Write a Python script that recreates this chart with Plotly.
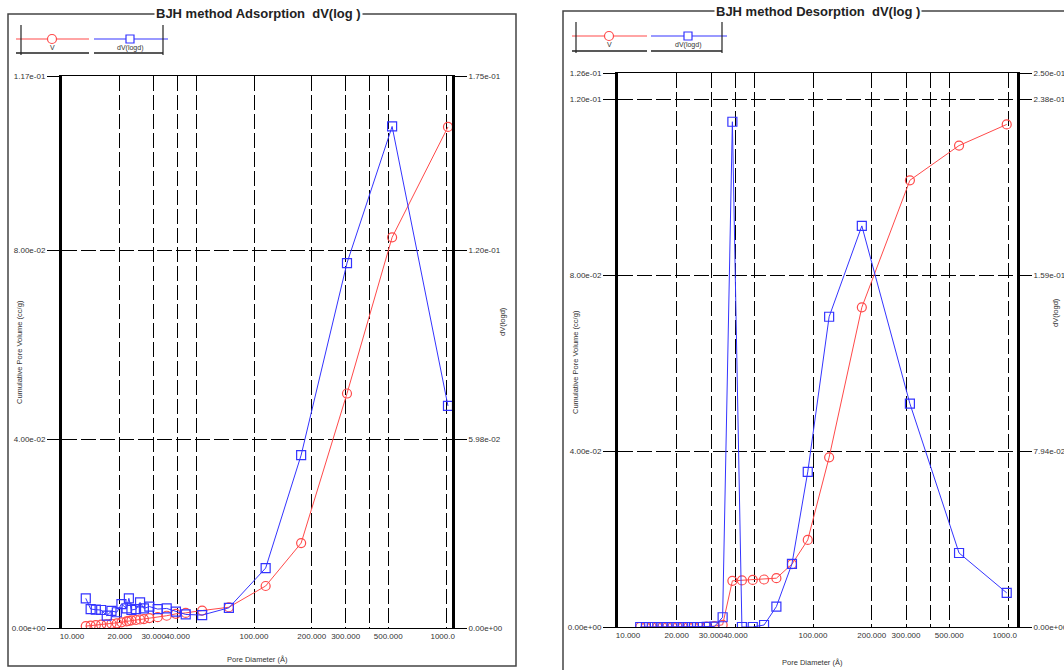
import plotly.graph_objects as go

W, H = 1064, 670

# ---------------- data ----------------
# Adsorption branch
ads_d = [13.3, 14.1, 15.0, 16.0, 17.1, 18.1, 19.3, 20.4, 21.7, 22.3, 23.0, 24.3, 25.5,
         26.7, 28.5, 31.5, 35.1, 39.2, 44.1, 53.7, 74.0, 115.0, 176.0, 305.0, 524.0, 1024.0]
ads_v = [0.0004, 0.0005, 0.0006, 0.0007, 0.0008, 0.0009, 0.0010, 0.0012, 0.0014, 0.0015,
         0.0016, 0.0017, 0.0018, 0.0019, 0.0021, 0.0023, 0.0026, 0.0030, 0.0032, 0.0037,
         0.0044, 0.0089, 0.0180, 0.0497, 0.0828, 0.1062]
ads_dv = [0.0094, 0.0060, 0.0058, 0.0057, 0.0039, 0.0054, 0.0050, 0.0076, 0.0062, 0.0094,
          0.0057, 0.0060, 0.0081, 0.0062, 0.0068, 0.0060, 0.0062, 0.0052, 0.0043, 0.0041,
          0.0064, 0.0190, 0.0548, 0.1157, 0.1590, 0.0704]

# Desorption branch
des_d = [13.0, 13.9, 14.9, 15.9, 16.9, 17.9, 19.0, 20.2, 21.5, 22.9, 24.5, 26.3, 28.5, 31.2,
         34.4, 38.6, 43.2, 49.1, 56.1, 64.9, 78.0, 94.0, 121.0, 178.0, 314.0, 561.0, 985.0]
des_v = [0.0, 0.0, 0.0, 0.0, 0.0, 0.0, 0.0, 0.0, 0.0, 0.0, 0.0, 0.0, 0.0001, 0.0002,
         0.0005, 0.0105, 0.0106, 0.0107, 0.0108, 0.0111, 0.0143, 0.0198, 0.0386, 0.0727,
         0.1016, 0.1095, 0.1143]
des_dv = [0.0, 0.0, 0.0, 0.0, 0.0, 0.0, 0.0, 0.0, 0.0, 0.0, 0.0, 0.0, 0.0001, 0.0002,
          0.0044, 0.2280, 0.0, 0.0, 0.0009, 0.0092, 0.0285, 0.0700, 0.1400, 0.1810,
          0.1008, 0.0334, 0.0154]

# ticks
NB = "\u00a0"
x_ticks = [10, 20, 30, 40, 50, 100, 200, 300, 400, 500, 1000]
x_text = [NB * 9 + "10.000", "20.000", "30.000", "40.000", "", "100.000", "200.000",
          "300.000", "", "500.000", "1000.0" + NB * 3]
ads_yl_ticks = [0, 0.04, 0.08, 0.117]
ads_yl_text = ["0.00e+00", "4.00e-02", "8.00e-02", "1.17e-01"]
ads_yr_ticks = [0, 0.0598, 0.1197, 0.175]
ads_yr_text = ["0.00e+00", "5.98e-02", "1.20e-01", "1.75e-01"]
des_yl_ticks = [0, 0.04, 0.08, 0.12, 0.126]
des_yl_text = ["0.00e+00", "4.00e-02", "8.00e-02", "1.20e-01", "1.26e-01"]
des_yr_ticks = [0, 0.0794, 0.1587, 0.238, 0.25]
des_yr_text = ["0.00e+00", "7.94e-02", "1.59e-01", "2.38e-01", "2.50e-01"]

RED = "#ff4a4a"
BLUE = "#3434ff"
FONT = "Liberation Sans, Arial, sans-serif"
TICKFONT = dict(family=FONT, size=8, color="#333")
DASH = "15px,4px"


def px(x):
    return x / W


def py(y):
    return 1 - y / H


fig = go.Figure()

def add_pair(d, v, dv, xa, ya, ya2):
    fig.add_trace(go.Scatter(
        x=d, y=v, mode="lines+markers", xaxis=xa, yaxis=ya, showlegend=False,
        line=dict(color=RED, width=1),
        marker=dict(symbol="circle-open", size=9, color=RED, line=dict(width=1.2))))
    fig.add_trace(go.Scatter(
        x=d, y=dv, mode="lines+markers", xaxis=xa, yaxis=ya2, showlegend=False,
        line=dict(color=BLUE, width=1),
        marker=dict(symbol="square-open", size=9, color=BLUE, line=dict(width=1.2))))

add_pair(ads_d, ads_v, ads_dv, "x", "y", "y2")
add_pair(des_d, des_v, des_dv, "x2", "y3", "y4")


def xax(dom, rng, anchor):
    return dict(type="log", domain=dom, range=rng, anchor=anchor, automargin=False,
                tickvals=x_ticks, ticktext=x_text, tickangle=0,
                showgrid=True, gridcolor="black", gridwidth=1, griddash=DASH,
                showline=True, linecolor="black", linewidth=1.2, mirror=True,
                ticks="", zeroline=False, tickfont=TICKFONT, fixedrange=True)


def yax(dom, rng, anchor, tv, tt):
    return dict(domain=dom, range=rng, anchor=anchor, tickvals=tv, ticktext=tt,
                automargin=False,
                showgrid=True, gridcolor="black", gridwidth=1, griddash=DASH,
                ticks="outside", ticklen=12, tickwidth=1, tickcolor="black",
                showline=True, linecolor="black", linewidth=3, zeroline=False,
                tickfont=TICKFONT, fixedrange=True)


def yax_r(over, rng, anchor, tv, tt):
    return dict(overlaying=over, side="right", range=rng, anchor=anchor,
                tickvals=tv, ticktext=tt, showgrid=False, automargin=False,
                ticks="outside", ticklen=12, tickwidth=1, tickcolor="black",
                showline=True, linecolor="black", linewidth=3, zeroline=False,
                tickfont=TICKFONT, fixedrange=True)


fig.update_layout(
    width=W, height=H, autosize=False,
    margin=dict(l=0, r=0, t=0, b=0, pad=0, autoexpand=False),
    paper_bgcolor="white", plot_bgcolor="white", showlegend=False,
    xaxis=xax([px(62), px(452)], [1, 1 + 390 / 192], "y"),
    yaxis=yax([py(628), py(76)], [0, 0.117], "x", ads_yl_ticks, ads_yl_text),
    yaxis2=yax_r("y", [0, 0.175], "x", ads_yr_ticks, ads_yr_text),
    xaxis2=xax([px(618), px(1017)], [1, 1 + 399 / 195], "y3"),
    yaxis3=yax([py(627), py(73)], [0, 0.126], "x2", des_yl_ticks, des_yl_text),
    yaxis4=yax_r("y3", [0, 0.25], "x2", des_yr_ticks, des_yr_text),
)

shapes = []
annos = []

# panel frames
shapes.append(dict(type="rect", xref="paper", yref="paper", x0=px(8), x1=px(516),
                   y0=py(666), y1=py(14), line=dict(color="#444", width=1.5), layer="below"))
shapes.append(dict(type="rect", xref="paper", yref="paper", x0=px(563), x1=px(1080),
                   y0=py(690), y1=py(11), line=dict(color="#444", width=1.5), layer="below"))


def line(x0, y0, x1, y1, color="black", width=1):
    shapes.append(dict(type="line", xref="paper", yref="paper", x0=px(x0), x1=px(x1),
                       y0=py(y0), y1=py(y1), line=dict(color=color, width=width)))


def legend_block(xl, xm1, xm2, xr, yline, yul, ytop, ybot, cx1, cx2, xv1, xv2):
    line(xl, yline, xm1, yline, RED, 1.2)
    line(xm2, yline, xr, yline, BLUE, 1.2)
    line(xv1, ytop, xv1, ybot, "#222", 1.2)
    line(xv2, ytop, xv2, ybot, "#222", 1.2)
    line(xl, yul, xm1, yul, "#222", 1.5)
    line(xm2, yul, xv2, yul, "#222", 1.5)
    shapes.append(dict(type="circle", xref="paper", yref="paper",
                       x0=px(cx1 - 4.5), x1=px(cx1 + 4.5), y0=py(yline + 4.5), y1=py(yline - 4.5),
                       line=dict(color=RED, width=1.2), fillcolor="white"))
    shapes.append(dict(type="rect", xref="paper", yref="paper",
                       x0=px(cx2 - 4), x1=px(cx2 + 4), y0=py(yline + 4), y1=py(yline - 4),
                       line=dict(color=BLUE, width=1.2), fillcolor="white"))
    for t, cx in (("V", cx1), ("dV(logd)", cx2)):
        annos.append(dict(text=t, xref="paper", yref="paper", x=px(cx), y=py(yline + 9),
                          xanchor="center", yanchor="middle", showarrow=False,
                          font=dict(family=FONT, size=7, color="#333")))


legend_block(16, 89, 94, 168, 39, 53, 25, 55, 52, 130, 21, 163)
legend_block(572, 647, 651, 727, 36, 51, 22, 53, 609, 688, 576, 722)

# titles
for t, cx, cy in (("BJH method Adsorption\u00a0 dV(log )", 258, 14),
                  ("BJH method Desorption\u00a0 dV(log )", 818, 11)):
    annos.append(dict(text="<b>" + t + "</b>", xref="paper", yref="paper", x=px(cx), y=py(cy),
                      xanchor="center", yanchor="middle", showarrow=False, bgcolor="white",
                      borderpad=1, font=dict(family=FONT, size=13, color="#222")))

# axis titles
for t, cx, cy, ang in (("Cumulative Pore Volume (cc/g)", 19, 352, -90),
                       ("dV(logd)", 502, 322, -90),
                       ("Cumulative Pore Volume (cc/g)", 575, 362, -90),
                       ("dV(logd)", 1055, 313, -90),
                       ("Pore Diameter (Å)", 257, 659, 0),
                       ("Pore Diameter (Å)", 812, 662, 0)):
    annos.append(dict(text=t, xref="paper", yref="paper", x=px(cx), y=py(cy),
                      xanchor="center", yanchor="middle", showarrow=False, textangle=ang,
                      font=dict(family=FONT, size=7.5, color="#333")))

fig.update_layout(shapes=shapes, annotations=annos)

fig.write_html("out.html", config={"displayModeBar": False, "responsive": False},
               post_script="document.body.style.margin='0px';document.body.style.overflow='hidden';")
